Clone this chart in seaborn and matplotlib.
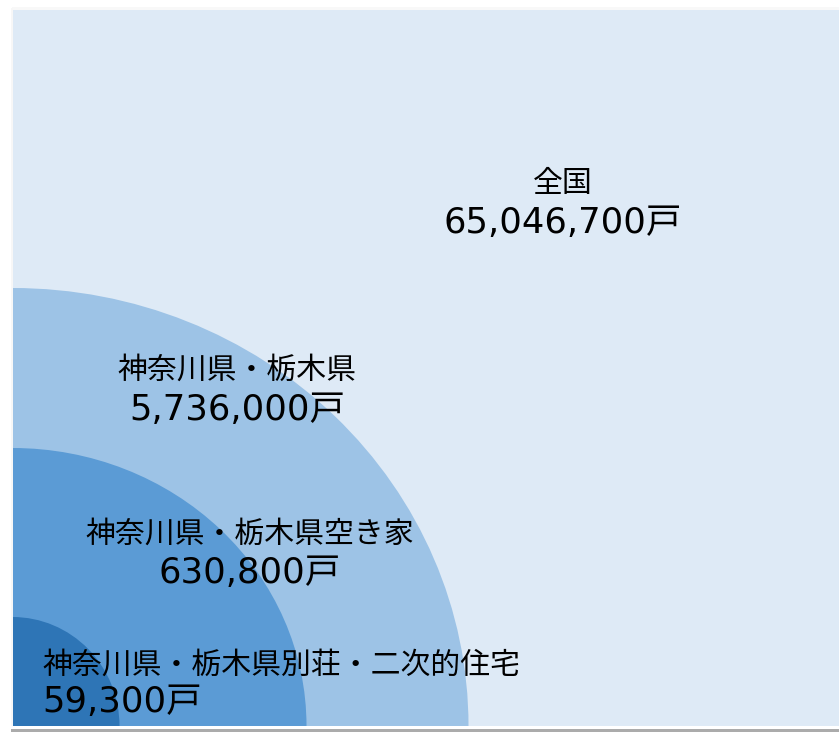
import matplotlib
matplotlib.use("Agg")
import matplotlib.pyplot as plt
from matplotlib.patches import Rectangle, Ellipse
import seaborn as sns

# Housing stock, from the whole country down to second homes
categories = ["全国", "神奈川県・栃木県", "神奈川県・栃木県空き家", "神奈川県・栃木県別荘・二次的住宅"]
counts = [65046700, 5736000, 630800, 59300]
unit = "戸"

# Nested quarter-circle layout (pixel coordinates, origin at bottom-left corner of the panel)
colors = ["#DEEAF6", "#9DC3E6", "#5B9BD5", "#2E75B6"]
radii_x = [None, 456, 294, 107]
radii_y = [None, 438, 278, 109]
label_pos = [(563, 183, 223, "center"), (237, 370, 410, "center"),
             (250, 534, 573, "center"), (42, 665, 702, "left")]

sns.set_theme(style="white")
cjk = ["Noto Sans CJK JP", "DejaVu Sans"]
num_font = ["DejaVu Sans", "Noto Sans CJK JP"]
plt.rcParams["font.family"] = cjk

W, H = 839, 732
fig = plt.figure(figsize=(W / 100, H / 100), dpi=100)
ax = fig.add_axes([0, 0, 1, 1])
ax.set_xlim(0, W)
ax.set_ylim(H, 0)
ax.axis("off")

x0, y_top, y_bot = 12.5, 9.5, 726
panel = Rectangle((x0, y_top), W - x0, y_bot - y_top, facecolor=colors[0],
                  edgecolor="none", zorder=1)
ax.add_patch(panel)

# soft shadow around the panel
ax.add_patch(Rectangle((x0 - 2, 728.5), W, 4, facecolor="#ABABAB", edgecolor="none", zorder=0))
ax.add_patch(Rectangle((x0 - 1, y_top - 3), W, 3, facecolor="#F8F8F8", edgecolor="none", zorder=0))
ax.add_patch(Rectangle((x0 - 2, y_top - 2), 2, y_bot - y_top + 2, facecolor="#F7F7F7",
                       edgecolor="none", zorder=0))

for i in range(1, len(categories)):
    e = Ellipse((x0, y_bot), 2 * radii_x[i], 2 * radii_y[i], facecolor=colors[i],
                edgecolor="none", zorder=1 + i)
    ax.add_patch(e)
    e.set_clip_path(panel)

for name, val, (x, y1, y2, ha) in zip(categories, counts, label_pos):
    ax.text(x, y1, name, ha=ha, va="center", fontsize=21.5, family=cjk,
            color="#000000", zorder=10)
    ax.text(x, y2, f"{val:,}{unit}", ha=ha, va="center", fontsize=25.5,
            family=num_font, color="#000000", zorder=10)

fig.savefig("out.png", dpi=100, facecolor="white")
